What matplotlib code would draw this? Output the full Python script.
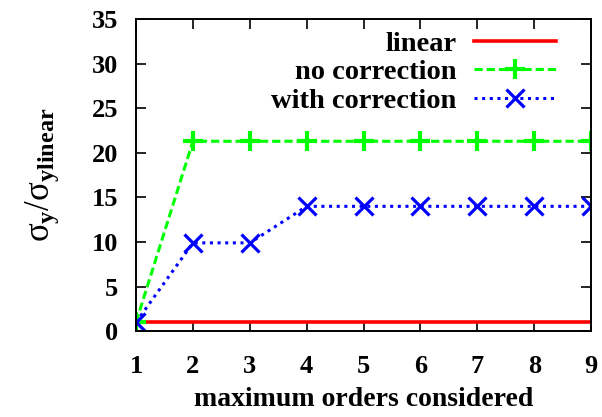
import matplotlib
matplotlib.use('Agg')
import matplotlib.pyplot as plt

# maximum orders considered and the sigma ratio for each approach
orders = [1, 2, 3, 4, 5, 6, 7, 8, 9]
linear = [1, 1, 1, 1, 1, 1, 1, 1, 1]
no_corr = [1, 21.3, 21.3, 21.3, 21.3, 21.3, 21.3, 21.3, 21.3]
with_corr = [1, 9.9, 9.9, 14, 14, 14, 14, 14, 14]

plt.rcParams['font.family'] = 'Liberation Serif'
plt.rcParams['font.weight'] = 'bold'
plt.rcParams['mathtext.fontset'] = 'custom'
plt.rcParams['mathtext.rm'] = 'Liberation Serif:normal'
plt.rcParams['mathtext.it'] = 'Liberation Serif:normal'
plt.rcParams['mathtext.bf'] = 'Liberation Serif:bold'

fig = plt.figure(figsize=(6.02, 4.17), dpi=100)
ax = fig.add_axes([0.226, 0.206, 0.756, 0.748])

ax.plot(orders, linear, color='#ff0000', lw=2.6, label='linear')
ax.plot(orders, no_corr, color='#00ff00', lw=2.2, ls=(0, (2.7, 1.3)), marker='+',
        ms=14, mew=3, label='no correction')
ax.plot(orders, with_corr, color='#0000ff', lw=2.2, ls=(0, (1, 1.5)), marker='x',
        ms=13, mew=2.3, label='with correction')

ax.set_xlim(1, 9)
ax.set_ylim(0, 35)
ax.set_xticks(orders)
ax.set_yticks(range(0, 36, 5))
ax.tick_params(direction='in', top=True, right=True, length=7, width=1.2,
               labelsize=19)
ax.tick_params(axis='x', pad=17)
ax.tick_params(axis='y', pad=13)
for s in ax.spines.values():
    s.set_linewidth(1.4)

ax.set_xlabel('maximum orders considered', fontsize=20, fontweight='bold', labelpad=7)
ax.set_ylabel(r'$\sigma_{\mathbf{y}}/\sigma_{\mathbf{ylinear}}$', fontsize=25, labelpad=22)

ax.legend(loc='upper right', frameon=False, markerfirst=False, fontsize=20.5,
          handlelength=2.9, handletextpad=0.6, labelspacing=0.1,
          borderaxespad=0.0, bbox_to_anchor=(0.948, 1.0))

fig.savefig('out.png', dpi=100)
